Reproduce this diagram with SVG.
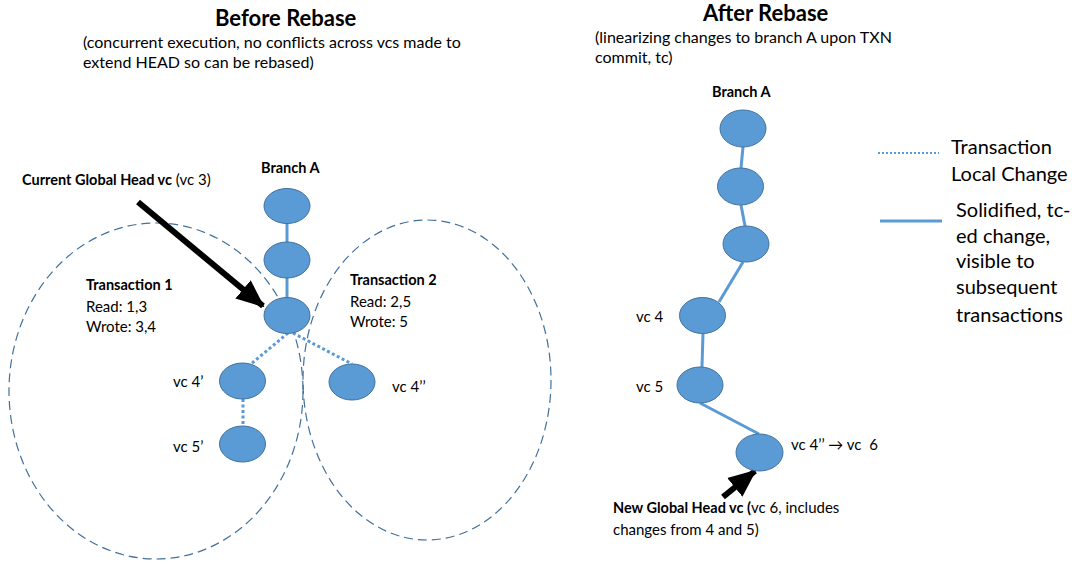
<svg xmlns="http://www.w3.org/2000/svg" width="1077" height="564" viewBox="0 0 1077 564">
  <style>
    text { font-family: Lato, "Liberation Sans", sans-serif; fill: #000; white-space: pre; }
    .title { font-size: 22px; font-weight: bold; }
    .sub { font-size: 16px; }
    .lbl { font-size: 15px; }
    .bold { font-weight: bold; font-size: 14.5px; }
    .legend { font-size: 20px; }
    .node { fill: #5B9BD5; stroke: #41719C; stroke-width: 1; }
    .txn { fill: none; stroke: #41719C; stroke-width: 1.2; stroke-dasharray: 9 5; }
    .solid { stroke: #5B9BD5; stroke-width: 3; fill: none; }
    .dotted { stroke: #5B9BD5; stroke-width: 3; fill: none; stroke-dasharray: 3 2.5; }
    .pointer { stroke: #000; stroke-width: 6; fill: none; }
  </style>
  <defs>
    <marker id="head" markerUnits="userSpaceOnUse" markerWidth="28" markerHeight="28" viewBox="0 0 28 28" refX="26" refY="14" orient="auto">
      <path d="M0,2 L28,14 L0,26 Z" fill="#000"/>
    </marker>
  </defs>

  <rect width="1077" height="564" fill="#fff"/>

  <!-- headings -->
  <g id="before-heading">
    <text class="title" x="215" y="26">Before Rebase</text>
    <text class="sub" x="83" y="48">(concurrent execution, no conflicts across vcs made to</text>
    <text class="sub" x="83" y="68">extend HEAD so can be rebased)</text>
  </g>
  <g id="after-heading">
    <text class="title" x="703" y="21">After Rebase</text>
    <text class="sub" x="595" y="43">(linearizing changes to branch A upon TXN</text>
    <text class="sub" x="595" y="63">commit, tc)</text>
  </g>

  <!-- transaction scopes -->
  <g id="transaction-1">
    <ellipse class="txn" cx="156" cy="391" rx="147" ry="168"/>
    <text class="lbl bold" x="86" y="290">Transaction 1</text>
    <text class="lbl" x="86" y="312">Read: 1,3</text>
    <text class="lbl" x="86" y="332">Wrote: 3,4</text>
  </g>
  <g id="transaction-2">
    <ellipse class="txn" cx="427" cy="380" rx="124" ry="160"/>
    <text class="lbl bold" x="350" y="285">Transaction 2</text>
    <text class="lbl" x="350" y="307">Read: 2,5</text>
    <text class="lbl" x="350" y="327">Wrote: 5</text>
  </g>

  <!-- connectors -->
  <g id="connectors">
    <line class="solid" x1="287" y1="223" x2="287" y2="242"/>
    <line class="solid" x1="287" y1="278" x2="287" y2="298"/>
    <line class="dotted" x1="288" y1="333" x2="251" y2="364"/>
    <line class="dotted" x1="293" y1="333" x2="352" y2="364"/>
    <line class="dotted" x1="243" y1="399" x2="243" y2="426"/>

    <line class="solid" x1="743" y1="147" x2="741" y2="168"/>
    <line class="solid" x1="741" y1="205" x2="745" y2="226"/>
    <line class="solid" x1="743" y1="262" x2="719" y2="302"/>
    <line class="solid" x1="703" y1="333" x2="702" y2="367"/>
    <line class="solid" x1="700" y1="403" x2="759" y2="434"/>

    <line class="pointer" x1="138" y1="202" x2="263" y2="306" marker-end="url(#head)"/>
    <line class="pointer" x1="723" y1="497" x2="755" y2="471" marker-end="url(#head)"/>
  </g>

  <!-- before rebase: branch A -->
  <g id="branch-a-left">
    <text class="lbl bold" x="261" y="173">Branch A</text>
    <ellipse class="node" id="vc1-left" cx="287" cy="206" rx="23" ry="17.5"/>
    <ellipse class="node" id="vc2-left" cx="287" cy="260" rx="23" ry="18"/>
    <ellipse class="node" id="vc3-left" cx="287" cy="315.5" rx="23" ry="18"/>
  </g>
  <g id="vc4-prime">
    <ellipse class="node" cx="242.5" cy="381" rx="23" ry="18"/>
    <text class="lbl" x="173" y="387">vc 4’</text>
  </g>
  <g id="vc5-prime">
    <ellipse class="node" cx="242.5" cy="444" rx="23" ry="18"/>
    <text class="lbl" x="173" y="452">vc 5’</text>
  </g>
  <g id="vc4-double-prime">
    <ellipse class="node" cx="352" cy="382" rx="23" ry="18"/>
    <text class="lbl" x="392" y="392">vc 4’’</text>
  </g>
  <g id="current-head-label">
    <text class="lbl" x="22" y="185"><tspan class="bold">Current Global Head vc</tspan> (vc 3)</text>
  </g>

  <!-- after rebase: branch A -->
  <g id="branch-a-right">
    <text class="lbl bold" x="712" y="97">Branch A</text>
    <ellipse class="node" id="vc1-right" cx="743" cy="128.5" rx="23" ry="18.5"/>
    <ellipse class="node" id="vc2-right" cx="740.5" cy="186.5" rx="23" ry="18.5"/>
    <ellipse class="node" id="vc3-right" cx="746" cy="244" rx="23" ry="18"/>
  </g>
  <g id="vc4">
    <ellipse class="node" cx="702.5" cy="315.5" rx="23" ry="18"/>
    <text class="lbl" x="636" y="322">vc 4</text>
  </g>
  <g id="vc5">
    <ellipse class="node" cx="700" cy="385" rx="23" ry="18"/>
    <text class="lbl" x="636" y="392">vc 5</text>
  </g>
  <g id="vc6">
    <ellipse class="node" cx="759.5" cy="452.5" rx="23.5" ry="18.5"/>
    <text class="lbl" x="791" y="450">vc 4’’ → vc  6</text>
  </g>
  <g id="new-head-label">
    <text class="lbl" x="613" y="513"><tspan class="bold">New Global Head vc (</tspan>vc 6, includes</text>
    <text class="lbl" x="613" y="535">changes from 4 and 5)</text>
  </g>

  <!-- legend -->
  <g id="legend">
    <line class="dotted" x1="878" y1="153" x2="939" y2="153" style="stroke-width:2;stroke-dasharray:2 2"/>
    <text class="legend" x="951" y="154">Transaction</text>
    <text class="legend" x="951" y="181">Local Change</text>
    <line class="solid" x1="880" y1="221" x2="942" y2="221"/>
    <text class="legend" x="956" y="217">Solidified, tc-</text>
    <text class="legend" x="956" y="243">ed change,</text>
    <text class="legend" x="956" y="268">visible to</text>
    <text class="legend" x="956" y="294">subsequent</text>
    <text class="legend" x="956" y="322">transactions</text>
  </g>
</svg>
